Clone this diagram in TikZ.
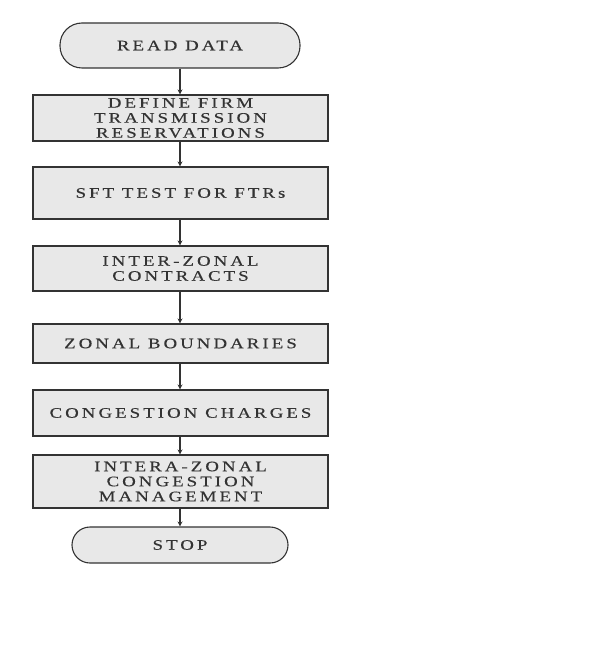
\documentclass[tikz,border=0pt]{standalone}
\usepackage{fontspec}
\setmainfont{Liberation Serif}[FakeStretch=1.3,LetterSpace=21,FakeBold=0.3]
\usetikzlibrary{arrows.meta}
\begin{document}
\begin{tikzpicture}[x=1pt,y=-1pt,
  boxstyle/.style={draw=black!80,line width=1.1pt,fill=black!9,minimum width=295pt,inner sep=0pt,align=center,font=\fontsize{14.5}{15}\selectfont,text=black!80},
  termstyle/.style={boxstyle,rounded corners=#1},
  flow/.style={draw=black!80,line width=1.2pt,-{Stealth[length=5pt,width=5pt]}}]
\useasboundingbox[fill=white] (0,0) rectangle (604,652);
\node[termstyle=22pt,minimum width=240pt,minimum height=45pt] (read) at (180,45.5) {READ DATA};
\node[boxstyle,minimum height=46pt] (b1) at (180.5,118) {DEFINE FIRM\\TRANSMISSION\\RESERVATIONS};
\node[boxstyle,minimum height=52pt] (b2) at (180.5,193) {SFT TEST FOR FTRs};
\node[boxstyle,minimum height=45pt] (b3) at (180.5,268.5) {INTER-ZONAL\\CONTRACTS};
\node[boxstyle,minimum height=39pt] (b4) at (180.5,343.5) {ZONAL BOUNDARIES};
\node[boxstyle,minimum height=46pt] (b5) at (180.5,413) {CONGESTION CHARGES};
\node[boxstyle,minimum height=53pt] (b6) at (180.5,481.5) {INTERA-ZONAL\\CONGESTION\\MANAGEMENT};
\node[termstyle=18pt,minimum width=216pt,minimum height=36pt] (stop) at (180,545) {STOP};
\draw[flow] (read.south -| 180,0) -- (b1.north -| 180,0);
\draw[flow] (b1.south -| 180,0) -- (b2.north -| 180,0);
\draw[flow] (b2.south -| 180,0) -- (b3.north -| 180,0);
\draw[flow] (b3.south -| 180,0) -- (b4.north -| 180,0);
\draw[flow] (b4.south -| 180,0) -- (b5.north -| 180,0);
\draw[flow] (b5.south -| 180,0) -- (b6.north -| 180,0);
\draw[flow] (b6.south -| 180,0) -- (stop.north -| 180,0);
\end{tikzpicture}
\end{document}
